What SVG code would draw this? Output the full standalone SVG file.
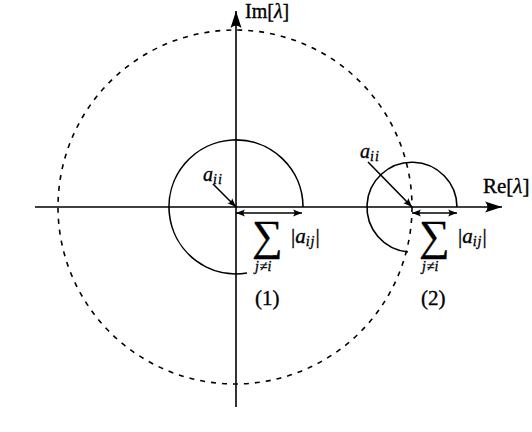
<svg xmlns="http://www.w3.org/2000/svg" width="532" height="432" viewBox="0 0 532 432">
<style>
.ln{fill:none;stroke:#000;stroke-width:1.6}
.ds{fill:none;stroke:#000;stroke-width:1.6;stroke-dasharray:5 6}
.t{font-family:"Liberation Serif","DejaVu Serif",serif;fill:#000;stroke:#000;stroke-width:0.35}
.it{font-style:italic}
</style>
<defs>
<marker id="big" markerUnits="userSpaceOnUse" markerWidth="19" markerHeight="12" refX="17" refY="6" orient="auto">
<path d="M17,6 L0,0.5 Q5,6 0,11.5 Z" fill="#000"/>
</marker>
<marker id="sm" markerUnits="userSpaceOnUse" markerWidth="10" markerHeight="8" refX="9" refY="4" orient="auto-start-reverse">
<path d="M9,4 L0,0.5 Q3,4 0,7.5 Z" fill="#000"/>
</marker>
</defs>
<rect width="532" height="432" fill="#fff"/>
<g id="axes">
<line class="ln" x1="35" y1="207" x2="502" y2="207" marker-end="url(#big)"/>
<line class="ln" x1="236" y1="407" x2="236" y2="11" marker-end="url(#big)"/>
<text class="t" x="245" y="18" font-size="20">Im[<tspan class="it">λ</tspan>]</text>
<text class="t" x="483" y="193" font-size="21">Re[<tspan class="it">λ</tspan>]</text>
</g>
<g id="big-circle">
<circle class="ds" cx="235" cy="207" r="177"/>
</g>
<g id="disc1">
<path class="ln" d="M303,207 A67,67 0 1 0 247,273"/>
<text class="t it" x="203" y="181" font-size="20">a<tspan font-size="14" dy="3" letter-spacing="1">ii</tspan></text>
<text class="t" x="252" y="250" font-size="43">∑</text>
<text class="t" x="291" y="243" font-size="21">|<tspan class="it">a</tspan><tspan class="it" font-size="14" dy="3" letter-spacing="1">ij</tspan><tspan dy="-3">|</tspan></text>
<text class="t it" x="255" y="271" font-size="14" letter-spacing="0.5">j≠i</text>
<text class="t" x="255" y="305" font-size="21">(1)</text>
</g>
<g id="disc2">
<path class="ln" d="M457,207 A45,45 0 1 0 408,252"/>
<text class="t it" x="360" y="158" font-size="20">a<tspan font-size="14" dy="3" letter-spacing="1">ii</tspan></text>
<text class="t" x="419" y="250" font-size="43">∑</text>
<text class="t" x="458" y="243" font-size="21">|<tspan class="it">a</tspan><tspan class="it" font-size="14" dy="3" letter-spacing="1">ij</tspan><tspan dy="-3">|</tspan></text>
<text class="t it" x="422" y="271" font-size="14" letter-spacing="0.5">j≠i</text>
<text class="t" x="421" y="305" font-size="21">(2)</text>
</g>
<g id="connectors">
<line class="ln" x1="213" y1="184" x2="236" y2="207" marker-end="url(#sm)"/>
<line class="ln" x1="236" y1="213" x2="302" y2="213" marker-start="url(#sm)" marker-end="url(#sm)"/>
<line class="ln" x1="368" y1="162" x2="412" y2="207" marker-end="url(#sm)"/>
<line class="ln" x1="412" y1="213" x2="457" y2="213" marker-start="url(#sm)" marker-end="url(#sm)"/>
</g>
</svg>
